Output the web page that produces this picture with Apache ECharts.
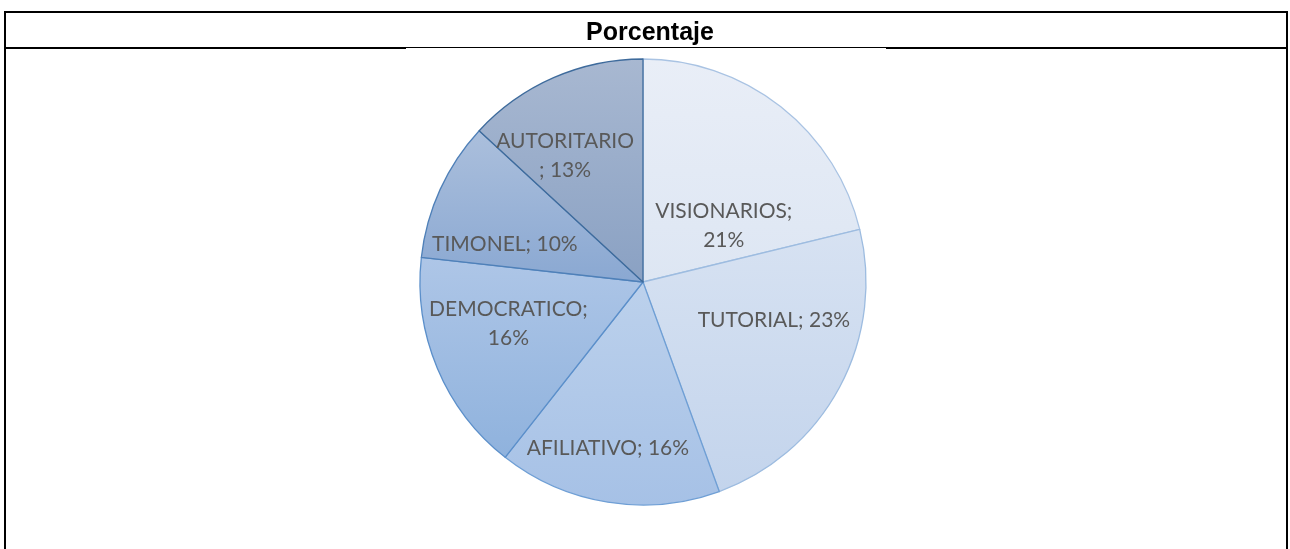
<!DOCTYPE html>
<html>
<head>
<meta charset="utf-8">
<script src="https://cdn.jsdelivr.net/npm/echarts@6/dist/echarts.min.js"></script>
<style>
  html, body { margin: 0; padding: 0; background: #fff; }
  #chart { width: 1290px; height: 549px; }
</style>
</head>
<body>
<div id="chart"></div>
<script>
// values (they add up to 99, like the source)
const categories = ["VISIONARIOS", "TUTORIAL", "AFILIATIVO", "DEMOCRATICO", "TIMONEL", "AUTORITARIO"];
const percents = [21, 23, 16, 16, 10, 13];
const separators = [";\n", "; ", "; ", ";\n", "; ", "\n; "];

// look of each slice: top / bottom of the gradient and the edge
const topColors = ["#e9eef7", "#d7e2f2", "#bcd1ec", "#aec6e7", "#abbfdc", "#a8b8d1"];
const bottomColors = ["#dde6f3", "#c3d4ec", "#a6c1e6", "#8fb2dd", "#8aa8d2", "#8aa1c3"];
const edgeColors = ["#a9c3e3", "#9dbce0", "#6f9fd5", "#5b8fca", "#4f80b8", "#3e6b9c"];
// nudges from the default "inside" spot, to sit where the source put them
const labelNudge = [[10, 34], [30, -16], [-17, 53], [-29, -3], [-34, 10], [-32, -21]];

const chart = echarts.init(document.getElementById("chart"));

const slices = categories.map((name, i) => ({
  name: name,
  value: percents[i],
  itemStyle: {
    color: new echarts.graphic.LinearGradient(0, 0, 0, 1, [
      { offset: 0, color: topColors[i] },
      { offset: 1, color: bottomColors[i] }
    ]),
    borderColor: edgeColors[i]
  },
  label: { offset: labelNudge[i] }
}));

const thick = { stroke: "#000", lineWidth: 2 };

chart.setOption({
  backgroundColor: "#fff",
  animation: false,
  title: {
    text: "Porcentaje",
    left: 645,
    top: 16,
    textAlign: "center",
    textStyle: { fontFamily: "Liberation Sans", fontWeight: "bold", fontSize: 25, color: "#000" }
  },
  graphic: [
    { type: "line", shape: { x1: 4, y1: 12, x2: 1288, y2: 12 }, style: thick },
    { type: "line", shape: { x1: 5, y1: 11, x2: 5, y2: 549 }, style: thick },
    { type: "line", shape: { x1: 1287, y1: 11, x2: 1287, y2: 549 }, style: thick },
    { type: "line", shape: { x1: 4, y1: 48, x2: 406, y2: 48 }, style: thick },
    { type: "line", shape: { x1: 886, y1: 48, x2: 1288, y2: 48 }, style: thick },
    { type: "line", shape: { x1: 406, y1: 47.5, x2: 886, y2: 47.5 }, style: { stroke: "#000", lineWidth: 1 } }
  ],
  series: [{
    type: "pie",
    center: [643, 282],
    radius: 223,
    startAngle: 90,
    clockwise: true,
    avoidLabelOverlap: false,
    itemStyle: { borderWidth: 1.3 },
    emphasis: { disabled: true },
    label: {
      show: true,
      position: "inside",
      fontFamily: "Lato",
      fontSize: 21,
      lineHeight: 29,
      color: "#595959",
      formatter: (p) => p.name + separators[p.dataIndex] + p.value + "%"
    },
    labelLine: { show: false },
    data: slices
  }]
});
</script>
</body>
</html>
